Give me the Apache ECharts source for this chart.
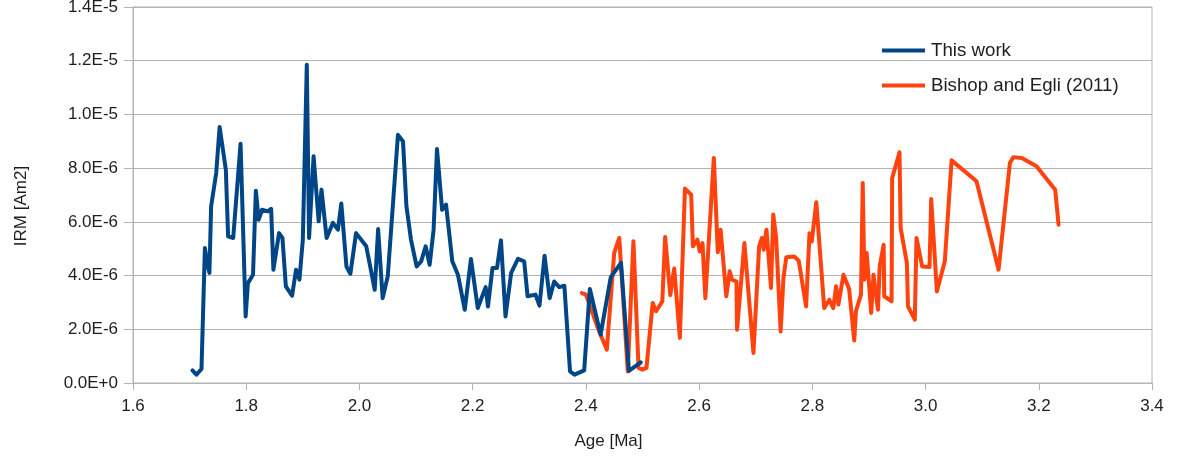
<!DOCTYPE html>
<html>
<head>
<meta charset="utf-8">
<title>IRM vs Age</title>
<script src="https://cdn.jsdelivr.net/npm/echarts@6/dist/echarts.min.js"></script>
<style>
  html, body { margin: 0; padding: 0; background: #ffffff; }
  #chart { width: 1178px; height: 459px; }
</style>
</head>
<body>
<div id="chart"></div>
<script>
// IRM values are stored in units of 1e-6 Am2.

// Series 1: This work
const ageThisWork = [
  1.705, 1.712, 1.721, 1.727, 1.731, 1.735, 1.738, 1.747, 1.753, 1.764,
  1.768, 1.777, 1.790, 1.799, 1.803, 1.812, 1.817, 1.822, 1.828, 1.838,
  1.844, 1.848, 1.858, 1.864, 1.870, 1.881, 1.888, 1.894, 1.900, 1.907,
  1.911, 1.919, 1.928, 1.933, 1.942, 1.953, 1.962, 1.968, 1.977, 1.984,
  1.994, 2.012, 2.019, 2.027, 2.033, 2.041, 2.050, 2.068, 2.077, 2.083,
  2.091, 2.101, 2.109, 2.117, 2.124, 2.131, 2.137, 2.146, 2.153, 2.164,
  2.174, 2.186, 2.197, 2.209, 2.223, 2.227, 2.235, 2.243, 2.250, 2.258,
  2.268, 2.280, 2.291, 2.297, 2.311, 2.318, 2.327, 2.336, 2.344, 2.353,
  2.362, 2.372, 2.380, 2.397, 2.407, 2.426, 2.444, 2.462, 2.476, 2.497
];
const irmThisWork = [
  0.47, 0.31, 0.52, 5.03, 4.47, 4.10, 6.58, 7.82, 9.53, 7.94,
  5.46, 5.40, 8.91, 2.48, 3.72, 4.03, 7.16, 6.08, 6.45, 6.39,
  6.48, 4.22, 5.58, 5.40, 3.60, 3.25, 4.22, 3.85, 5.34, 11.85,
  5.40, 8.44, 6.02, 7.20, 5.40, 5.96, 5.71, 6.68, 4.34, 4.07,
  5.58, 5.09, 4.34, 3.47, 5.73, 3.16, 3.97, 9.24, 8.99, 6.58,
  5.34, 4.34, 4.53, 5.09, 4.40, 5.71, 8.71, 6.45, 6.64, 4.53,
  4.03, 2.73, 4.62, 2.79, 3.57, 2.85, 4.28, 4.28, 5.31, 2.48,
  4.10, 4.62, 4.53, 3.23, 3.29, 2.88, 4.74, 3.16, 3.78, 3.57,
  3.62, 0.43, 0.31, 0.47, 3.50, 1.80, 3.94, 4.47, 0.45, 0.77
];

// Series 2: Bishop and Egli (2011)
const ageBishop = [
  2.393, 2.400, 2.421, 2.437, 2.450, 2.459, 2.474, 2.484, 2.493, 2.500,
  2.507, 2.518, 2.524, 2.535, 2.540, 2.549, 2.556, 2.566, 2.575, 2.586,
  2.589, 2.597, 2.601, 2.606, 2.611, 2.626, 2.633, 2.638, 2.648, 2.654,
  2.658, 2.666, 2.667, 2.680, 2.696, 2.706, 2.711, 2.714, 2.719, 2.727,
  2.731, 2.736, 2.744, 2.749, 2.754, 2.768, 2.776, 2.789, 2.795, 2.799,
  2.807, 2.821, 2.830, 2.837, 2.842, 2.846, 2.855, 2.865, 2.874, 2.877,
  2.884, 2.886, 2.889, 2.892, 2.896, 2.904, 2.908, 2.916, 2.919, 2.926,
  2.927, 2.940, 2.941, 2.954, 2.956, 2.967, 2.969, 2.981, 2.984, 2.994,
  3.007, 3.010, 3.020, 3.034, 3.046, 3.090, 3.129, 3.149, 3.155, 3.170,
  3.196, 3.229, 3.235
];
const irmBishop = [
  3.35, 3.29, 2.05, 1.24, 4.84, 5.40, 0.43, 5.28, 0.56, 0.50,
  0.56, 2.98, 2.67, 3.04, 5.44, 3.27, 4.26, 1.68, 7.24, 7.01,
  5.09, 5.34, 4.90, 5.21, 3.16, 8.38, 4.87, 5.71, 3.23, 4.16,
  3.85, 3.78, 1.98, 5.21, 1.12, 5.09, 5.40, 4.96, 5.71, 3.54,
  6.27, 5.43, 1.92, 3.91, 4.68, 4.71, 4.55, 2.85, 5.58, 5.27,
  6.73, 2.79, 3.10, 2.79, 3.60, 2.92, 4.03, 3.50, 1.58, 2.67,
  3.16, 3.29, 7.45, 3.85, 4.84, 2.61, 4.03, 2.73, 4.34, 5.15,
  3.23, 3.04, 7.63, 8.59, 5.77, 4.47, 2.85, 2.36, 5.40, 4.34,
  4.32, 6.85, 3.41, 4.53, 8.29, 7.51, 4.22, 8.19, 8.41, 8.38,
  8.07, 7.20, 5.89
];

const seriesNames = ['This work', 'Bishop and Egli (2011)'];
const seriesColors = ['#004586', '#ff420e'];

// Y tick labels, bottom to top (0 .. 14 in units of 1e-6)
const yTickLabels = ['0.0E+0', '2.0E-6', '4.0E-6', '6.0E-6', '8.0E-6', '1.0E-5', '1.2E-5', '1.4E-5'];
// X tick labels, left to right
const xTickLabels = ['1.6', '1.8', '2.0', '2.2', '2.4', '2.6', '2.8', '3.0', '3.2', '3.4'];

function pairs(xs, ys) {
  return xs.map((x, i) => [x, ys[i]]);
}

const textColor = '#1e1e1e';
const gridColor = '#b3b3b3';
const fontFamily = '"Liberation Sans", Arial, sans-serif';
const lineWidth = 4;

const chart = echarts.init(document.getElementById('chart'), null, { renderer: 'canvas' });

chart.setOption({
  animation: false,
  backgroundColor: '#ffffff',
  textStyle: { fontFamily: fontFamily },
  grid: {
    left: 133,
    right: 26,
    top: 7,
    bottom: 76,
    containLabel: false,
    outerBoundsMode: 'none',
    show: true,
    borderColor: gridColor,
    borderWidth: 1
  },
  legend: {
    data: seriesNames.map((n, i) => ({ name: n, icon: 'rect', itemStyle: { color: seriesColors[i] } })),
    orient: 'vertical',
    left: 882,
    top: 41,
    padding: 0,
    itemWidth: 43,
    itemHeight: 4,
    itemGap: 16,
    textStyle: { fontSize: 18.7, lineHeight: 19, color: textColor, fontFamily: fontFamily, padding: [0, 0, 0, 1] }
  },
  xAxis: {
    type: 'value',
    min: 1.6,
    max: 3.4,
    interval: 0.2,
    name: 'Age [Ma]',
    nameLocation: 'middle',
    nameGap: 50,
    nameTextStyle: { fontSize: 17, color: textColor, fontFamily: fontFamily, padding: [0, 68, 0, 0] },
    axisLine: { show: true, lineStyle: { color: gridColor, width: 1 } },
    axisTick: { show: true, inside: false, length: 7, lineStyle: { color: gridColor } },
    axisLabel: {
      fontSize: 17,
      color: textColor,
      margin: 15,
      formatter: (v) => {
        const idx = Math.round((v - 1.6) / 0.2);
        return xTickLabels[idx] !== undefined ? xTickLabels[idx] : '';
      }
    },
    splitLine: { show: false }
  },
  yAxis: {
    type: 'value',
    min: 0,
    max: 14,
    interval: 2,
    name: 'IRM [Am2]',
    nameLocation: 'middle',
    nameRotate: 90,
    nameGap: 103,
    nameTextStyle: { fontSize: 17, color: textColor, fontFamily: fontFamily, padding: [0, 22, 0, 0] },
    axisLine: { show: true, lineStyle: { color: gridColor, width: 1 } },
    axisTick: { show: true, inside: false, length: 9, lineStyle: { color: gridColor } },
    axisLabel: {
      fontSize: 17,
      color: textColor,
      margin: 15,
      formatter: (v) => {
        const idx = Math.round(v / 2);
        return yTickLabels[idx] !== undefined ? yTickLabels[idx] : '';
      }
    },
    splitLine: { show: true, lineStyle: { color: gridColor, width: 1 } }
  },
  series: [
    {
      name: seriesNames[0],
      type: 'line',
      data: pairs(ageThisWork, irmThisWork),
      symbol: 'none',
      showSymbol: false,
      smooth: false,
      color: seriesColors[0],
      lineStyle: { color: seriesColors[0], width: lineWidth, join: 'round', cap: 'round' },
      z: 3
    },
    {
      name: seriesNames[1],
      type: 'line',
      data: pairs(ageBishop, irmBishop),
      symbol: 'none',
      showSymbol: false,
      smooth: false,
      color: seriesColors[1],
      lineStyle: { color: seriesColors[1], width: lineWidth, join: 'round', cap: 'round' },
      z: 2
    }
  ]
});
</script>
</body>
</html>
